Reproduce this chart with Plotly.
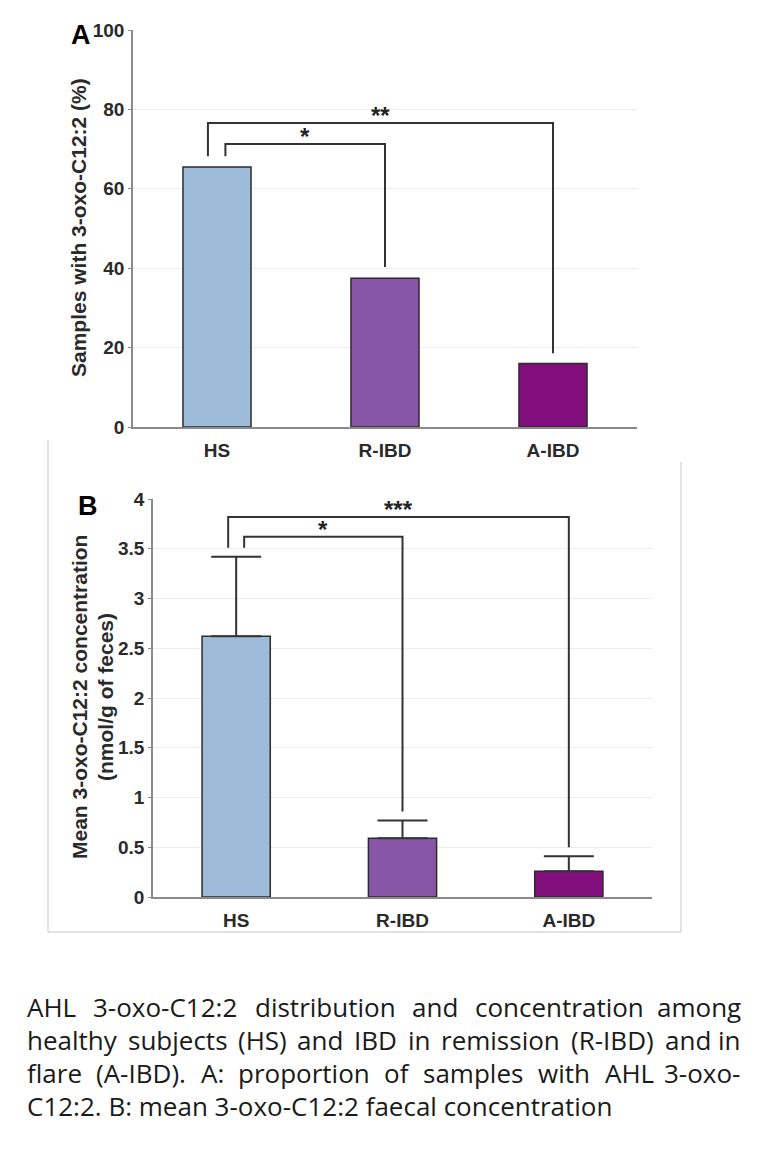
import plotly.graph_objects as go

W, H = 762, 1152

# ---------------- data ----------------
groups = ["HS", "R-IBD", "A-IBD"]
colors = ["#9ebcda", "#8856a7", "#810f7c"]

pct_samples = [65.5, 37.5, 16.0]           # panel A (%)
mean_conc = [2.62, 0.59, 0.26]             # panel B (nmol/g)
conc_err = [0.80, 0.18, 0.15]              # panel B upper error

a_ticks = [0, 20, 40, 60, 80, 100]
b_ticks = [0, 0.5, 1, 1.5, 2, 2.5, 3, 3.5, 4]
b_ticklabels = ["0", "0.5", "1", "1.5", "2", "2.5", "3", "3.5", "4"]

# significance brackets: (label, x_left, x_right, top, left_bottom, right_bottom)
a_brackets = [("*", 0.05, 1, 71.3, 68.2, 40.3),
              ("**", -0.054, 2, 76.6, 68.2, 18.6)]
b_brackets = [("*", 0.048, 1, 3.62, 3.51, 0.86),
              ("***", -0.048, 2, 3.82, 3.51, 0.50)]

caption_lines = [
    "AHL 3-oxo-C12:2 distribution and concentration among",
    "healthy subjects (HS) and IBD in remission (R-IBD) and in",
    "flare (A-IBD). A: proportion of samples with AHL 3-oxo-",
    "C12:2. B: mean 3-oxo-C12:2 faecal concentration",
]
caption_justified = [True, True, True, False]
caption_y = [1007, 1040, 1073, 1106]

# ---------------- helpers ----------------
def px(x):
    return x / W

def py(y):
    return 1 - y / H

# approximate Open Sans advance widths (em) used to justify the caption lines
OS_W = {" ": .26, "a": .556, "b": .613, "c": .476, "d": .613, "e": .561, "f": .339,
        "g": .548, "h": .614, "i": .253, "j": .253, "l": .253, "m": .930, "n": .614,
        "o": .604, "p": .613, "r": .408, "s": .477, "t": .353, "u": .614, "w": .807,
        "x": .524, "y": .501, "A": .633, "B": .648, "C": .631, "D": .729, "H": .738,
        "I": .279, "L": .539, "R": .639, "S": .550, "-": .322, ":": .266, ".": .266,
        "(": .295, ")": .295}

def text_w(s, size):
    return sum(OS_W.get(ch, .572) for ch in s) * size

CAP_SIZE = 26
CAP_L, CAP_R = 25, 743

xpos = list(range(len(groups)))
AXC = "#8a8a8a"
TXT = "#2a2a2a"
FONT = "Liberation Sans, Arial, sans-serif"

fig = go.Figure()

fig.add_trace(go.Bar(
    x=xpos, y=pct_samples, width=0.405,
    marker=dict(color=colors, line=dict(color="#2b2b2b", width=1.5)),
    xaxis="x", yaxis="y", showlegend=False, hoverinfo="skip"))

fig.add_trace(go.Bar(
    x=xpos, y=mean_conc, width=0.41,
    marker=dict(color=colors, line=dict(color="#2b2b2b", width=1.5)),
    error_y=dict(type="data", array=conc_err, arrayminus=[0] * len(conc_err),
                 symmetric=False, color="#333333", thickness=2, width=25),
    xaxis="x2", yaxis="y2", showlegend=False, hoverinfo="skip"))

annotations = []

def add_brackets(brackets, xa, ya, star_off):
    for lab, xl, xr, top, lb, rb in brackets:
        fig.add_trace(go.Scatter(
            x=[xl, xl, xr, xr], y=[lb, top, top, rb], mode="lines",
            line=dict(color="#333333", width=2), xaxis=xa, yaxis=ya,
            showlegend=False, hoverinfo="skip"))
        annotations.append(dict(
            x=(xl + xr) / 2, y=top + star_off, xref=xa, yref=ya,
            text="<b>%s</b>" % lab, showarrow=False, xanchor="center", yanchor="middle",
            font=dict(family=FONT, size=24, color="#222222")))

add_brackets(a_brackets, "x", "y", 1.9)
add_brackets(b_brackets, "x2", "y2", 0.075)

axis_common = dict(showline=True, linecolor=AXC, linewidth=1.5, zeroline=False,
                   automargin=False,
                   tickfont=dict(family=FONT, size=19, color=TXT))

fig.update_layout(
    width=W, height=H, margin=dict(l=0, r=0, t=0, b=0, autoexpand=False),
    paper_bgcolor="white", plot_bgcolor="white",
    xaxis=dict(domain=[px(133), px(637)], range=[-0.5, 2.5], tickvals=xpos,
               ticktext=["<b>%s</b>" % g for g in groups], ticks="",
               showgrid=False, anchor="y", ticklabelstandoff=5, **axis_common),
    yaxis=dict(domain=[py(427), py(30)], range=[0, 100], tickvals=a_ticks,
               ticktext=["<b>%d</b>" % t for t in a_ticks], ticks="outside",
               ticklen=3, tickcolor=AXC, showgrid=True, gridcolor="#ececec",
               gridwidth=1, anchor="x", **axis_common),
    xaxis2=dict(domain=[px(153), px(652)], range=[-0.5, 2.5], tickvals=xpos,
                ticktext=["<b>%s</b>" % g for g in groups], ticks="",
                showgrid=False, anchor="y2", ticklabelstandoff=5, **axis_common),
    yaxis2=dict(domain=[py(897), py(499)], range=[0, 4], tickvals=b_ticks,
                ticktext=["<b>%s</b>" % t for t in b_ticklabels], ticks="outside",
                ticklen=3, tickcolor=AXC, showgrid=True, gridcolor="#ececec",
                gridwidth=1, anchor="x2", **axis_common),
)

def paper_text(x, y, text, size, color, angle=0, xanchor="center"):
    annotations.append(dict(x=px(x), y=py(y), xref="paper", yref="paper", text=text,
                            textangle=angle, showarrow=False, xanchor=xanchor,
                            yanchor="middle", font=dict(family=FONT, size=size, color=color)))

# panel letters
paper_text(81, 35, "<b>A</b>", 27, "black")
paper_text(88, 506, "<b>B</b>", 27, "black")

# axis titles
paper_text(79, 228, "<b>Samples with 3-oxo-C12:2 (%)</b>", 21, TXT, angle=-90)
paper_text(79, 697, "<b>Mean 3-oxo-C12:2 concentration</b>", 21, TXT, angle=-90)
paper_text(105, 697, "<b>(nmol/g of feces)</b>", 21, TXT, angle=-90)

# caption (justified like the source)
CAPF = dict(family="Open Sans, sans-serif", size=CAP_SIZE, color="#1a1a1a")
for line, just, yv in zip(caption_lines, caption_justified, caption_y):
    if not just:
        annotations.append(dict(x=px(CAP_L), y=py(yv), xref="paper", yref="paper",
                                text=line, showarrow=False, xanchor="left",
                                yanchor="middle", font=CAPF))
        continue
    words = line.split(" ")
    widths = [text_w(w, CAP_SIZE) for w in words]
    gap = (CAP_R - CAP_L - sum(widths)) / (len(words) - 1)
    xcur = CAP_L
    for i, (word, wd) in enumerate(zip(words, widths)):
        last = i == len(words) - 1
        annotations.append(dict(x=px(CAP_R if last else xcur), y=py(yv),
                                xref="paper", yref="paper", text=word, showarrow=False,
                                xanchor="right" if last else "left",
                                yanchor="middle", font=CAPF))
        xcur += wd + gap

fig.update_layout(annotations=annotations)

frame = dict(type="line", xref="paper", yref="paper",
             line=dict(color="#d9d9d9", width=1.5))
fig.update_layout(shapes=[
    dict(frame, x0=px(48), x1=px(48), y0=py(440), y1=py(932)),
    dict(frame, x0=px(48), x1=px(681), y0=py(932), y1=py(932)),
    dict(frame, x0=px(681), x1=px(681), y0=py(462), y1=py(932)),
])

fig.write_html("out.html", config={"displayModeBar": False},
               post_script="document.body.style.margin='0px';")
